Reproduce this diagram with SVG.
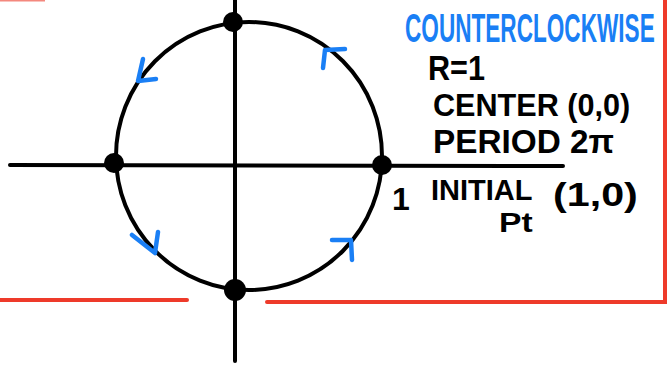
<svg xmlns="http://www.w3.org/2000/svg" width="668" height="366" viewBox="0 0 668 366">
<style>
.ax{stroke:#000;stroke-width:4;fill:none;stroke-linecap:round}
.red{stroke:#ee3a2a;stroke-width:4;fill:none;stroke-linecap:round}
.arr{stroke:#1a7ff5;stroke-width:4.5;fill:none;stroke-linecap:round;stroke-linejoin:round}
.dot{fill:#000}
.t{font-family:"Liberation Sans","DejaVu Sans",sans-serif;fill:#000;font-weight:bold}
.b{font-family:"Liberation Sans","DejaVu Sans",sans-serif;fill:#1a7ff5;font-weight:bold}
</style>
<rect width="668" height="366" fill="#fff"/>
<g id="frame">
<path class="red" d="M0 300 H187"/>
<path class="red" d="M267 302 H665 V0"/>
<path d="M0 0.5 H45" stroke="#ee3a2a" stroke-width="2" opacity="0.6"/>
</g>
<g id="axes">
<path class="ax" d="M10 165 L563 166"/>
<path class="ax" d="M235 0 L235 361"/>
</g>
<g id="circle">
<ellipse class="ax" cx="249" cy="156" rx="133" ry="134"/>
</g>
<g id="points">
<circle id="p-top" class="dot" cx="233" cy="22" r="10"/>
<circle id="p-left" class="dot" cx="114" cy="163" r="10"/>
<circle id="p-right" class="dot" cx="382" cy="165" r="10"/>
<circle id="p-bottom" class="dot" cx="235" cy="290" r="11"/>
</g>
<g id="arrows">
<path class="arr" d="M143 59 L138 81 L156 79"/>
<path class="arr" d="M132 235 L155 253 L158 232"/>
<path class="arr" d="M323 68 L325 50 L345 49"/>
<path class="arr" d="M332 240 L351 240 L352 260"/>
</g>
<g id="labels">
<text class="t" x="392" y="210" font-size="32">1</text>
<text class="b" font-size="40" transform="translate(405,42) scale(0.565,1)">COUNTERCLOCKWISE</text>
<text class="t" font-size="36" transform="translate(428,80) scale(0.85,1)">R=1</text>
<text class="t" font-size="32" transform="translate(433,116) scale(0.956,1)">CENTER (0,0)</text>
<text class="t" font-size="34" transform="translate(433,153) scale(0.98,1)">PERIOD 2π</text>
<text class="t" font-size="29" transform="translate(431,200)">INITIAL</text>
<text class="t" font-size="33" transform="translate(553,206) scale(1.25,1)">(1,0)</text>
<text class="t" font-size="28" transform="translate(499,232) scale(1.2,1)">Pt</text>
</g>
</svg>
